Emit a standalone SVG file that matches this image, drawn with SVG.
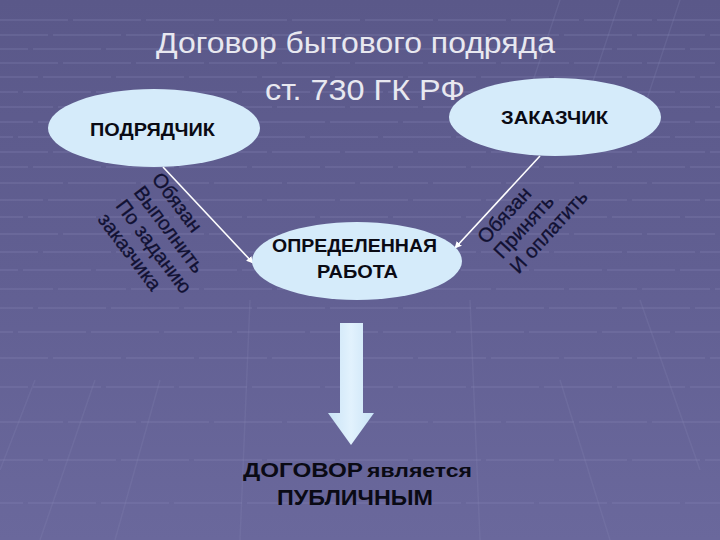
<svg xmlns="http://www.w3.org/2000/svg" width="720" height="540" viewBox="0 0 720 540">
  <defs>
    <linearGradient id="bg" x1="0" y1="0" x2="0" y2="1">
      <stop offset="0" stop-color="#5a5889"/>
      <stop offset="0.5" stop-color="#615f92"/>
      <stop offset="1" stop-color="#6a689c"/>
    </linearGradient>
    <linearGradient id="arrowFill" x1="0" y1="0" x2="1" y2="0">
      <stop offset="0" stop-color="#c9e3f6"/>
      <stop offset="0.5" stop-color="#e2f2fd"/>
      <stop offset="1" stop-color="#c9e3f6"/>
    </linearGradient>
    <marker id="ah" viewBox="0 0 10 10" refX="9" refY="5" markerWidth="7" markerHeight="7" orient="auto" markerUnits="userSpaceOnUse">
      <path d="M0,0 L10,5 L0,10 Z" fill="#ffffff"/>
    </marker>
    <style>
      .title { font-family: "Liberation Sans Narrow", "Liberation Sans", Arial, sans-serif; font-size: 30px; fill: #e8e8f0; }
      .oval { fill: #d5ebfa; }
      .nlabel { font-family: "Liberation Sans Narrow", "Liberation Sans", Arial, sans-serif; font-weight: bold; fill: #0a0a14; }
      .clabel { font-family: "Liberation Sans", Arial, sans-serif; font-weight: bold; font-size: 19px; fill: #0a0a14; }
      .rot { font-family: "Liberation Sans", Arial, sans-serif; font-size: 20px; fill: #111133; stroke: #111133; stroke-width: 0.3; }
      .conn { stroke: #ffffff; stroke-width: 1.6; fill: none; }
      .grid { stroke: #8c8abb; stroke-width: 1.6; opacity: 0.3; stroke-dasharray: 68 5; }
      .slant { stroke: #8c8abb; stroke-width: 1.5; opacity: 0.2; fill: none; }
      .bottom { font-family: "Liberation Sans", Arial, sans-serif; font-weight: bold; fill: #0a0a14; }
    </style>
  </defs>

  <!-- background -->
  <rect x="0" y="0" width="720" height="540" fill="url(#bg)"/>
  <g id="grid">
    <line class="grid" x1="0" y1="20" x2="720" y2="20"/>
    <line class="grid" x1="-20" y1="35" x2="720" y2="35"/>
    <line class="grid" x1="-40" y1="49" x2="720" y2="49"/>
    <line class="grid" x1="-10" y1="63" x2="720" y2="63"/>
    <line class="grid" x1="-30" y1="77" x2="720" y2="77"/>
    <line class="grid" x1="-50" y1="92" x2="720" y2="92"/>
    <line class="grid" x1="-15" y1="107" x2="720" y2="107"/>
    <line class="grid" x1="-35" y1="122" x2="720" y2="122"/>
    <line class="grid" x1="-55" y1="137" x2="720" y2="137"/>
    <line class="grid" x1="-20" y1="152" x2="720" y2="152"/>
    <line class="grid" x1="-40" y1="167" x2="720" y2="167"/>
    <line class="grid" x1="-5" y1="183" x2="720" y2="183"/>
    <line class="grid" x1="-25" y1="200" x2="720" y2="200"/>
    <line class="grid" x1="-45" y1="217" x2="720" y2="217"/>
    <line class="grid" x1="-10" y1="234" x2="720" y2="234"/>
    <line class="grid" x1="-30" y1="252" x2="720" y2="252"/>
    <line class="grid" x1="-50" y1="270" x2="720" y2="270"/>
    <line class="grid" x1="-15" y1="289" x2="720" y2="289"/>
    <line class="grid" x1="-35" y1="308" x2="720" y2="308"/>
    <line class="grid" x1="-55" y1="332" x2="720" y2="332"/>
    <line class="grid" x1="-20" y1="358" x2="720" y2="358"/>
    <line class="grid" x1="-40" y1="387" x2="720" y2="387"/>
    <line class="grid" x1="-5" y1="422" x2="720" y2="422"/>
    <line class="grid" x1="-25" y1="460" x2="720" y2="460"/>
    <line class="grid" x1="-45" y1="503" x2="720" y2="503"/>
    <path class="slant" d="M35,380 L0,470 M95,380 L40,540 M160,380 L115,540 M250,300 L240,540 M470,300 L480,540 M560,380 L610,540 M640,300 L700,470 M620,0 L580,120 M680,0 L640,120 M560,0 L530,90"/>
  </g>

  <!-- title -->
  <g id="title">
    <text class="title" x="156" y="53" textLength="399" lengthAdjust="spacingAndGlyphs">Договор бытового подряда</text>
    <text class="title" x="265" y="100" textLength="200" lengthAdjust="spacingAndGlyphs">ст. 730 ГК РФ</text>
  </g>

  <!-- connectors -->
  <g id="connectors">
    <line class="conn" x1="163" y1="167" x2="253" y2="263" marker-end="url(#ah)"/>
    <line class="conn" x1="540" y1="156" x2="455" y2="248" marker-end="url(#ah)"/>
    <path id="block-arrow" d="M340,323 L363,323 L363,413 L374,413 L351,445 L328,413 L340,413 Z" fill="url(#arrowFill)"/>
  </g>

  <!-- nodes -->
  <g id="node-podryadchik">
    <ellipse class="oval" cx="154" cy="128" rx="106" ry="39"/>
    <text class="nlabel" x="90" y="136" font-size="19" textLength="125" lengthAdjust="spacingAndGlyphs">ПОДРЯДЧИК</text>
  </g>

  <g id="node-zakazchik">
    <ellipse class="oval" cx="555" cy="117" rx="106" ry="39"/>
    <text class="nlabel" x="501" y="124" font-size="18" textLength="107" lengthAdjust="spacingAndGlyphs">ЗАКАЗЧИК</text>
  </g>

  <g id="node-rabota">
    <ellipse class="oval" cx="357" cy="261" rx="105" ry="39"/>
    <text class="clabel" x="272" y="252" textLength="165" lengthAdjust="spacingAndGlyphs">ОПРЕДЕЛЕННАЯ</text>
    <text class="clabel" x="317" y="278" textLength="81" lengthAdjust="spacingAndGlyphs">РАБОТА</text>
  </g>

  <g id="node-public">
    <text class="bottom" x="243" y="477" font-size="21" textLength="120" lengthAdjust="spacingAndGlyphs">ДОГОВОР</text>
    <text class="bottom" x="367" y="477" font-size="18" textLength="105" lengthAdjust="spacingAndGlyphs">является</text>
    <text class="bottom" x="277" y="505" font-size="22" textLength="156" lengthAdjust="spacingAndGlyphs">ПУБЛИЧНЫМ</text>
  </g>

  <!-- rotated labels -->
  <g id="label-podryadchik-duties" transform="translate(151,179) rotate(53)">
    <text class="rot" x="0" y="0">Обязан</text>
    <text class="rot" x="0" y="22.5">Выполнить</text>
    <text class="rot" x="0" y="45">По заданию</text>
    <text class="rot" x="0" y="67.5">заказчика</text>
  </g>

  <g id="label-zakazchik-duties" transform="translate(486,245) rotate(-47.5)">
    <text class="rot" x="0" y="0">Обязан</text>
    <text class="rot" x="0" y="22">Принять</text>
    <text class="rot" x="0" y="44">И оплатить</text>
  </g>
</svg>
